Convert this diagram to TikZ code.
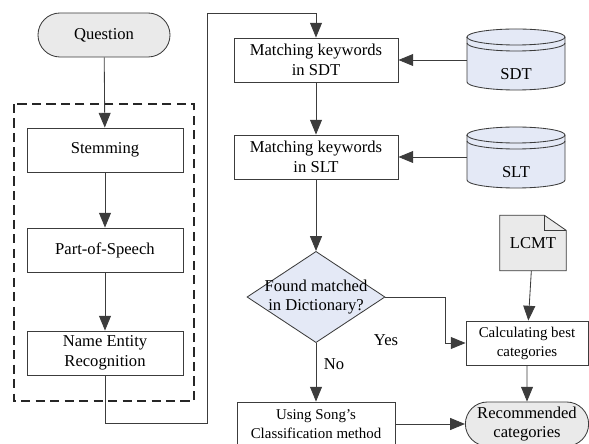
\documentclass[tikz,border=0pt]{standalone}
\usepackage{fontspec}
\setmainfont{Liberation Serif}
\usetikzlibrary{arrows.meta,positioning,shapes.geometric,shapes.misc}

\definecolor{lineclr}{HTML}{3C3C3C}
\definecolor{greyfill}{HTML}{EAEAEA}
\definecolor{bluefill}{HTML}{E4E9F6}

\begin{document}
\begin{tikzpicture}
[
	              x = 0.025cm,
	              y = -0.025cm,
	      >= {Triangle[length=10.5pt,width=8.5pt]},
	   every node/.style = { font=\fontsize{11.8}{14}\selectfont, align=center },
	     process/.style = { draw=lineclr, fill=white, line width=0.6pt, inner sep=0pt, minimum width=3.9cm, minimum height=1.1cm },
	    terminal/.style = { draw=lineclr, fill=greyfill, line width=0.6pt, rounded rectangle, inner sep=0pt, minimum width=3.3cm, minimum height=1.1cm },
	    decision/.style = { draw=lineclr, fill=bluefill, line width=0.6pt, diamond, inner sep=0pt, minimum width=3.45cm, minimum height=2.28cm },
	   drumlabel/.style = { draw=none, inner sep=0pt, minimum width=2.45cm, minimum height=0.9cm },
	    doclabel/.style = { draw=none, inner sep=0pt, minimum width=1.65cm, minimum height=1.375cm },
	       small/.style = { font=\fontsize{10.6}{13.5}\selectfont },
	        flow/.style = { draw=lineclr, line width=0.6pt },
	       group/.style = { draw=black!85, line width=1pt, dash pattern=on 6.5pt off 3.8pt }
]

    \useasboundingbox (0,0) rectangle (589,444);

    % left column: preprocessing of the question
    \node (Question)    at (104, 35) [terminal]  {Question};
    \node (Stemming)    at (105,150) [process]   {Stemming};
    \node (POS)         at (105,250) [process]   {Part-of-Speech};
    \node (NER)         at (105,353) [process]   {Name Entity\\Recognition};
    \draw[group] (14,104) rectangle (194,401);

    \coordinate (LoopBottom) at (207,423);
    \coordinate (LoopTop)    at (207, 13);

    % middle column
    \node (MatchSDT)    at (316, 60) [process, minimum width=4.1cm] {Matching keywords\\in SDT};
    \node (MatchSLT)    at (316,157) [process, minimum width=4.1cm] {Matching keywords\\in SLT};
    \node (Found)       at (316,297) [decision]  {};
    \node (FoundText)   at (Found)               {Found matched\\in Dictionary?};
    \node (Song)        at (316,424) [process, small, minimum width=3.95cm] {Using Song\textquoteright s\\Classification method};
    \node (NoLabel)     at (334,364)             {No};

    % right column
    \node (SDT)         at (516, 74) [drumlabel] {SDT};
    \node (SLT)         at (516,172) [drumlabel] {SLT};
    \node (LCMT)        at (533,243) [doclabel]  {LCMT};
    \node (Calc)        at (527,343) [process, small, minimum width=3.05cm] {Calculating best\\categories};
    \node (Recommended) at (527,424) [terminal, minimum width=3.08cm] {Recommended\\categories};
    \node (YesLabel)    at (386,340)             {Yes};

    \coordinate (YesBend) at (445,297);

    % databases
    \foreach \db in {SDT,SLT} {
      \begin{scope}[shift={(\db.center)}]
        \path[flow, fill=bluefill] (-49,-37) -- (-49,8)
          arc[start angle=180, end angle=360, x radius=1.225cm, y radius=0.2cm]
          -- (49,-37)
          arc[start angle=0, end angle=180, x radius=1.225cm, y radius=0.2cm] -- cycle;
        \draw[flow] (-49,-37) arc[start angle=180, end angle=360, x radius=1.225cm, y radius=0.2cm];
        \draw[flow] (-49,-31) arc[start angle=180, end angle=360, x radius=1.225cm, y radius=0.2cm];
      \end{scope}
    }
    \node at (SDT) {SDT};
    \node at (SLT) {SLT};

    % document with folded corner
    \path[flow, fill=greyfill] (LCMT.north west) -- ([xshift=-0.55cm]LCMT.north east)
      -- ([yshift=-0.38cm]LCMT.north east) -- (LCMT.south east) -- (LCMT.south west) -- cycle;
    \draw[flow] ([xshift=-0.55cm]LCMT.north east) -- ([xshift=-0.55cm,yshift=-0.38cm]LCMT.north east)
      -- ([yshift=-0.38cm]LCMT.north east);
    \node at (LCMT) {LCMT};

    % connectors
    \draw[flow, ->] (Question) -- (Stemming);
    \draw[flow, ->] (Stemming) -- (POS);
    \draw[flow, ->] (POS) -- (NER);
    \draw[flow, ->] (NER.south) |- (LoopBottom) -- (LoopTop) -| (MatchSDT.north);
    \draw[flow, ->] (SDT.west |- MatchSDT.east) -- (MatchSDT.east);
    \draw[flow, ->] (MatchSDT) -- (MatchSLT);
    \draw[flow, ->] (SLT.west |- MatchSLT.east) -- (MatchSLT.east);
    \draw[flow, ->] (MatchSLT) -- (Found.north);
    \draw[flow, ->] (Found.south) -- (Song.north);
    \draw[flow, ->] (Found.east) -- (YesBend) |- (Calc.west);
    \draw[flow, ->] (LCMT) -- (Calc);
    \draw[flow, ->] (Calc) -- (Recommended);
    \draw[flow, ->] (Song.east) -- (Recommended.west);

\end{tikzpicture}
\end{document}
